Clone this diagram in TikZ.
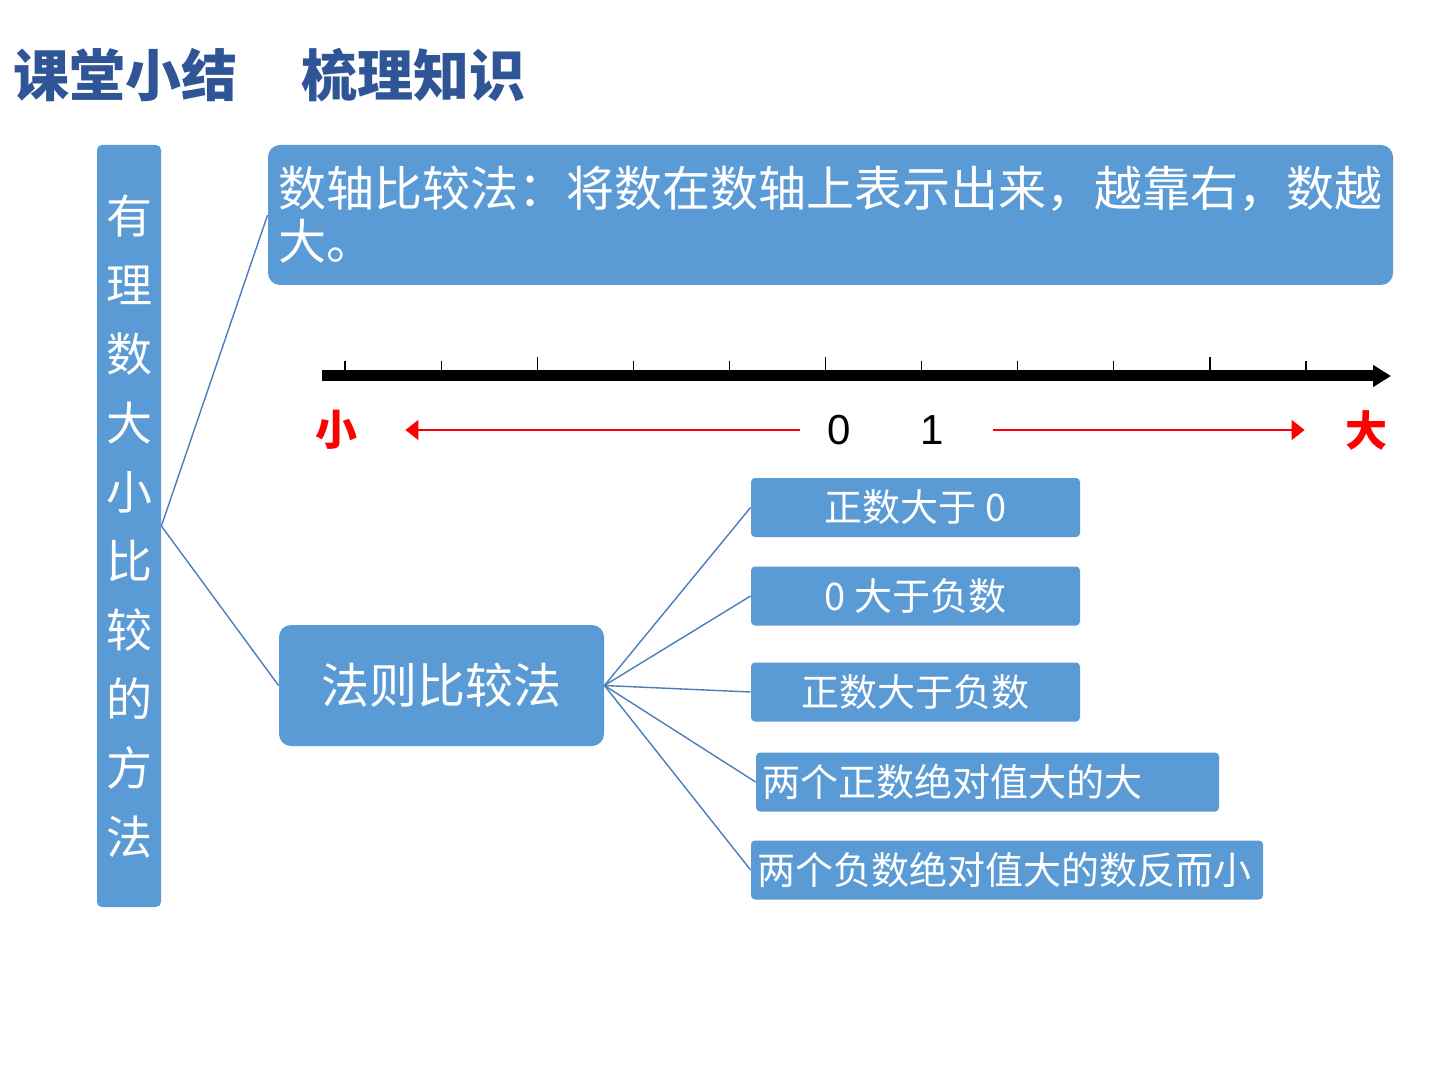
\documentclass[tikz,border=0pt]{standalone}
\usepackage{fontspec}
\usepackage{tikz}
\usepackage{xcolor}
\usetikzlibrary{arrows.meta}
\newfontfamily\cjk{Noto Sans CJK SC}
\newfontfamily\arial{Liberation Sans}
\definecolor{boxblue}{RGB}{91,155,213}
\definecolor{titleblue}{RGB}{47,85,151}
\definecolor{linkblue}{RGB}{74,126,187}

\begin{document}
\begin{tikzpicture}[x=0.5pt,y=-0.5pt,
        bluebox/.style={fill=boxblue,draw=none,text=white,inner sep=0pt},
        rulebox/.style={bluebox,rounded corners=2pt,minimum height=29.5pt,font=\cjk\fontsize{19}{22}\selectfont},
        sidelabel/.style={text=red,inner sep=0pt,font=\cjk\bfseries\fontsize{21}{24}\selectfont},
        digit/.style={inner sep=0pt,font=\arial\fontsize{21}{24}\selectfont},
        redarrow/.style={draw=red,line width=0.7pt,-{Triangle[length=6.5pt,width=10pt]}},
        link/.style={draw=linkblue,line width=0.7pt}]
        \useasboundingbox[fill=white] (0,0) rectangle (1440,1080);
        \draw (13,97) node[anchor=base west,inner sep=0pt,text=titleblue,font=\cjk\bfseries\fontsize{28}{30}\selectfont](title) {课堂小结\hspace{32pt}梳理知识};
        \draw (129,526) node[bluebox,rounded corners=2.5pt,minimum width=32pt,minimum height=381pt,align=center,font=\cjk\fontsize{23}{34.5}\selectfont](side) {有\\理\\数\\大\\小\\比\\较\\的\\方\\法};
        \draw (830.5,215) node[bluebox,rounded corners=6pt,minimum width=562.5pt,minimum height=70pt,inner xsep=5pt,text width=552.5pt,align=left,font=\cjk\fontsize{24}{26.5}\selectfont](numbox) {数轴比较法：将数在数轴上表示出来，越靠右，数越\\大。};
        \draw (441.5,685.5) node[bluebox,rounded corners=6pt,minimum width=162.5pt,minimum height=60.5pt,font=\cjk\fontsize{24}{26}\selectfont](method) {法则比较法};
        \draw (915.5,507.5) node[rulebox,minimum width=164.5pt](r1) {正数大于 0};
        \draw (915.5,596) node[rulebox,minimum width=164.5pt](r2) {0 大于负数};
        \draw (915.5,692) node[rulebox,minimum width=164.5pt](r3) {正数大于负数};
        \draw (987.5,782) node[rulebox,minimum width=231.5pt,inner xsep=3pt,text width=225.5pt,align=left](r4) {两个正数绝对值大的大};
        \draw (1007,870) node[rulebox,minimum width=256pt,inner xsep=3pt,text width=250pt,align=left](r5) {两个负数绝对值大的数反而小};
        % number line
        \coordinate (axisL) at (322,376);
        \coordinate (axisR) at (1391,376);
        \draw[line width=5.5pt,-{Triangle[length=9pt,width=10.5pt]}] (axisL) -- (axisR);
        \foreach \i in {0,1,3,4,6,7,8,10}
            \draw[line width=0.6pt] (345+96.1*\i,371) -- (345+96.1*\i,361);
        \foreach \i in {2,5,9}
            \draw[line width=0.6pt] (345+96.1*\i,371) -- (345+96.1*\i,357);
        \draw (336,430) node[sidelabel](small) {小};
        \draw (1366,430) node[sidelabel](big) {大};
        \draw (839,430) node[digit](zero) {0};
        \draw (932,430) node[digit](one) {1};
        \draw[redarrow,shorten <=13.5pt,shorten >=24pt] (zero.west) -- (small.east);
        \draw[redarrow,shorten <=24.5pt,shorten >=20pt] (one.east) -- (big.west);
        % connectors
        \draw[link] (side.east) -- (numbox.west);
        \draw[link] (side.east) -- (method.west);
        \foreach \r in {1,...,5}
            \draw[link] (method.east) -- (r\r.west);
    \end{tikzpicture}
\end{document}
